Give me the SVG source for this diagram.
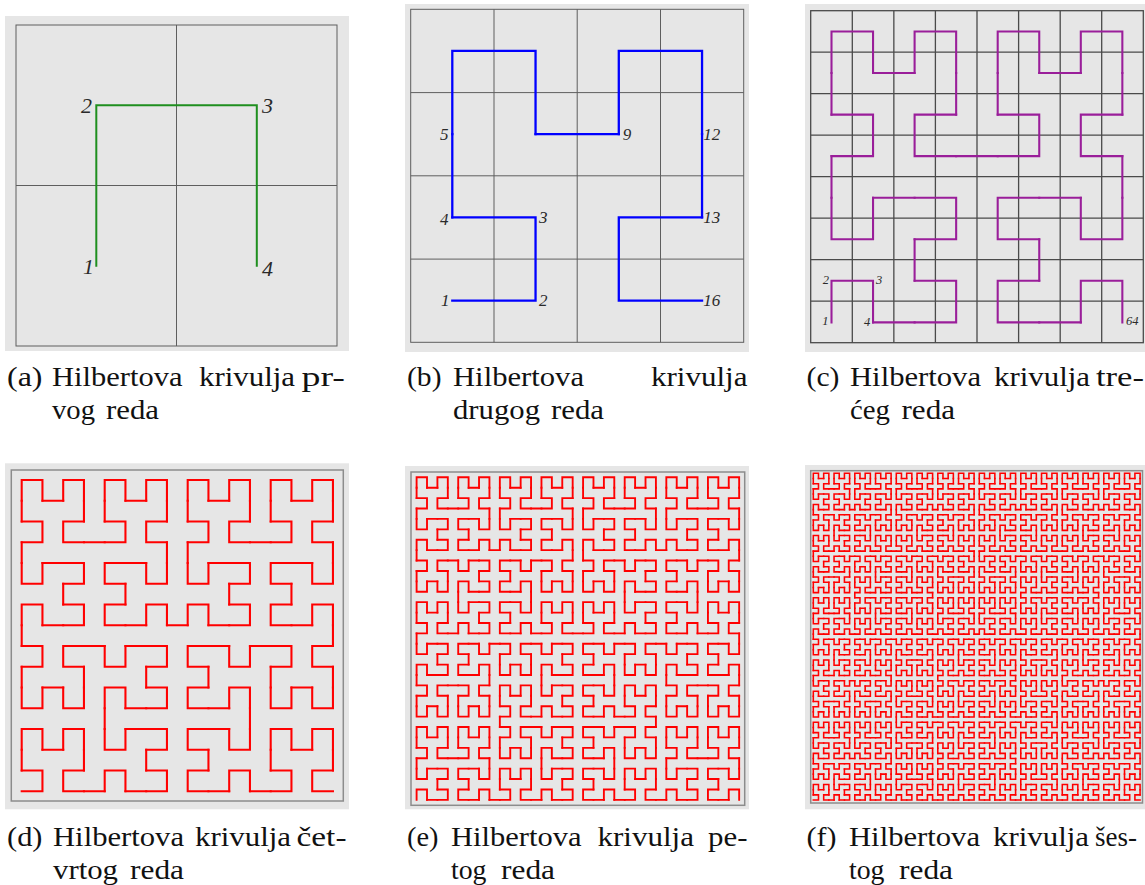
<svg xmlns="http://www.w3.org/2000/svg" width="1145" height="885" viewBox="0 0 1145 885">
<style>
.bg{fill:#e6e6e6}
.grid{fill:none;stroke:#5e5e5e;stroke-width:1}
.gridc{fill:none;stroke:#4a4a4a;stroke-width:1.3}
.frame{fill:none;stroke:#8c8c8c;stroke-width:1.5}
.curve{fill:none;stroke-linecap:square;stroke-linejoin:miter}
.num{font-family:"Liberation Serif",serif;font-style:italic;fill:#2a2a2a}
.cap{font-family:"Liberation Serif",serif;font-size:27.5px;fill:#111}
</style>
<defs>
<path id="h1" d="M0 1V0H1V1"/>
<g id="h2"><use href="#h1" transform="matrix(0,-1,-1,0,1,3)"/><use href="#h1"/><use href="#h1" transform="translate(2,0)"/><use href="#h1" transform="matrix(0,1,1,0,2,2)"/><path d="M0 2V1M1 1H2M3 1V2"/></g>
<g id="h3"><use href="#h2" transform="matrix(0,-1,-1,0,3,7)"/><use href="#h2"/><use href="#h2" transform="translate(4,0)"/><use href="#h2" transform="matrix(0,1,1,0,4,4)"/><path d="M0 4V3M3 3H4M7 3V4"/></g>
<g id="h4"><use href="#h3" transform="matrix(0,-1,-1,0,7,15)"/><use href="#h3"/><use href="#h3" transform="translate(8,0)"/><use href="#h3" transform="matrix(0,1,1,0,8,8)"/><path d="M0 8V7M7 7H8M15 7V8"/></g>
<g id="h5"><use href="#h4" transform="matrix(0,-1,-1,0,15,31)"/><use href="#h4"/><use href="#h4" transform="translate(16,0)"/><use href="#h4" transform="matrix(0,1,1,0,16,16)"/><path d="M0 16V15M15 15H16M31 15V16"/></g>
<g id="h6"><use href="#h5" transform="matrix(0,-1,-1,0,31,63)"/><use href="#h5"/><use href="#h5" transform="translate(32,0)"/><use href="#h5" transform="matrix(0,1,1,0,32,32)"/><path d="M0 32V31M31 31H32M63 31V32"/></g>
</defs>

<g id="panel-a">
<rect class="bg" x="5" y="16" width="344" height="335"/>
<rect class="grid" x="16" y="25" width="321" height="321"/>
<path class="grid" d="M176.5 25V346M16 185.5H337"/>
<g class="curve" stroke="#1f8f1f" stroke-width="0.0125" transform="translate(96.3 105.3) scale(160.5)"><use href="#h1"/></g>
<g class="num" font-size="22">
<text x="81" y="113">2</text><text x="262" y="113">3</text>
<text x="83" y="274">1</text><text x="262" y="276">4</text>
</g>
<g class="cap">
<text x="7" y="386" textLength="35.5" lengthAdjust="spacingAndGlyphs">(a)</text>
<text x="52" y="386" textLength="130.5" lengthAdjust="spacingAndGlyphs">Hilbertova</text>
<text x="199" y="386" textLength="96" lengthAdjust="spacingAndGlyphs">krivulja</text>
<text x="301.5" y="386" textLength="43.5" lengthAdjust="spacingAndGlyphs">pr-</text>
<text x="52" y="419" textLength="43" lengthAdjust="spacingAndGlyphs">vog</text>
<text x="106" y="419" textLength="53" lengthAdjust="spacingAndGlyphs">reda</text>
</g>
</g>

<g id="panel-b">
<rect class="bg" x="405" y="4" width="344" height="348"/>
<rect class="grid" x="410.7" y="9.3" width="333" height="333"/>
<path class="grid" d="M494 9.3V342.3M577.2 9.3V342.3M660.5 9.3V342.3M410.7 92.6H743.7M410.7 175.8H743.7M410.7 259.1H743.7"/>
<g class="curve" stroke="#0000ff" stroke-width="0.0276" transform="translate(452.3 50.9) scale(83.25)"><use href="#h2"/></g>
<g class="num" font-size="17">
<text x="440" y="140">5</text><text x="622.7" y="140">9</text><text x="703.3" y="140">12</text>
<text x="440" y="225">4</text><text x="539" y="223">3</text><text x="703.3" y="223">13</text>
<text x="441" y="306">1</text><text x="539" y="306">2</text><text x="703.3" y="306">16</text>
</g>
<g class="cap">
<text x="407" y="386" textLength="34.5" lengthAdjust="spacingAndGlyphs">(b)</text>
<text x="453" y="386" textLength="131" lengthAdjust="spacingAndGlyphs">Hilbertova</text>
<text x="651" y="386" textLength="96.5" lengthAdjust="spacingAndGlyphs">krivulja</text>
<text x="453" y="419" textLength="87" lengthAdjust="spacingAndGlyphs">drugog</text>
<text x="551" y="419" textLength="53" lengthAdjust="spacingAndGlyphs">reda</text>
</g>
</g>

<g id="panel-c">
<rect class="bg" x="805" y="4" width="340" height="348"/>
<rect class="gridc" x="810.7" y="10.7" width="332.6" height="332"/>
<path class="gridc" d="M852.3 10.7V342.7M893.85 10.7V342.7M935.4 10.7V342.7M977 10.7V342.7M1018.6 10.7V342.7M1060.2 10.7V342.7M1101.7 10.7V342.7M810.7 52.2H1143.3M810.7 93.7H1143.3M810.7 135.2H1143.3M810.7 176.7H1143.3M810.7 218.2H1143.3M810.7 259.7H1143.3M810.7 301.2H1143.3"/>
<g class="curve" stroke="#9a1e9a" stroke-width="0.05" transform="translate(831.5 31.5) scale(41.55)"><use href="#h3"/></g>
<g class="num" font-size="12.5" fill="#444">
<text x="822.7" y="284">2</text><text x="876" y="284">3</text>
<text x="822.3" y="325">1</text><text x="864" y="326">4</text><text x="1126" y="325">64</text>
</g>
<g class="cap">
<text x="806.5" y="386" textLength="33" lengthAdjust="spacingAndGlyphs">(c)</text>
<text x="850" y="386" textLength="131" lengthAdjust="spacingAndGlyphs">Hilbertova</text>
<text x="994" y="386" textLength="96" lengthAdjust="spacingAndGlyphs">krivulja</text>
<text x="1096" y="386" textLength="48" lengthAdjust="spacingAndGlyphs">tre-</text>
<text x="850" y="419" textLength="40" lengthAdjust="spacingAndGlyphs">ćeg</text>
<text x="901.5" y="419" textLength="53.5" lengthAdjust="spacingAndGlyphs">reda</text>
</g>
</g>

<g id="panel-d">
<rect class="bg" x="5" y="463.3" width="344" height="346"/>
<rect class="frame" x="11.3" y="470" width="332" height="331"/>
<g class="curve" stroke="#ff0000" stroke-width="0.1" transform="translate(21.7 480) scale(20.75)"><use href="#h4"/></g>
<g class="cap">
<text x="7" y="846" textLength="35.5" lengthAdjust="spacingAndGlyphs">(d)</text>
<text x="53" y="846" textLength="131" lengthAdjust="spacingAndGlyphs">Hilbertova</text>
<text x="195" y="846" textLength="96" lengthAdjust="spacingAndGlyphs">krivulja</text>
<text x="296.5" y="846" textLength="50" lengthAdjust="spacingAndGlyphs">čet-</text>
<text x="53" y="879" textLength="65" lengthAdjust="spacingAndGlyphs">vrtog</text>
<text x="130" y="879" textLength="54" lengthAdjust="spacingAndGlyphs">reda</text>
</g>
</g>

<g id="panel-e">
<rect class="bg" x="405" y="466" width="344" height="343.3"/>
<rect class="frame" x="411" y="472" width="333.7" height="333.3"/>
<g class="curve" stroke="#ff0000" stroke-width="0.18" transform="translate(416.6 477.3) scale(10.405)"><use href="#h5"/></g>
<g class="cap">
<text x="407" y="846" textLength="31.5" lengthAdjust="spacingAndGlyphs">(e)</text>
<text x="451" y="846" textLength="130.5" lengthAdjust="spacingAndGlyphs">Hilbertova</text>
<text x="597.5" y="846" textLength="96.5" lengthAdjust="spacingAndGlyphs">krivulja</text>
<text x="708" y="846" textLength="39.5" lengthAdjust="spacingAndGlyphs">pe-</text>
<text x="451" y="879" textLength="35.5" lengthAdjust="spacingAndGlyphs">tog</text>
<text x="501" y="879" textLength="54" lengthAdjust="spacingAndGlyphs">reda</text>
</g>
</g>

<g id="panel-f">
<rect class="bg" x="805" y="465" width="340" height="344.3"/>
<rect class="frame" x="810.7" y="470.7" width="331.8" height="332.3"/>
<g class="curve" stroke="#ff0000" stroke-width="0.3" transform="translate(813.3 473.3) scale(5.187)"><use href="#h6"/></g>
<g class="cap">
<text x="806.5" y="846" textLength="30" lengthAdjust="spacingAndGlyphs">(f)</text>
<text x="849" y="846" textLength="131" lengthAdjust="spacingAndGlyphs">Hilbertova</text>
<text x="993" y="846" textLength="96" lengthAdjust="spacingAndGlyphs">krivulja</text>
<text x="1095" y="846" textLength="42" lengthAdjust="spacingAndGlyphs">šes-</text>
<text x="849" y="879" textLength="35.5" lengthAdjust="spacingAndGlyphs">tog</text>
<text x="899" y="879" textLength="54" lengthAdjust="spacingAndGlyphs">reda</text>
</g>
</g>
</svg>
